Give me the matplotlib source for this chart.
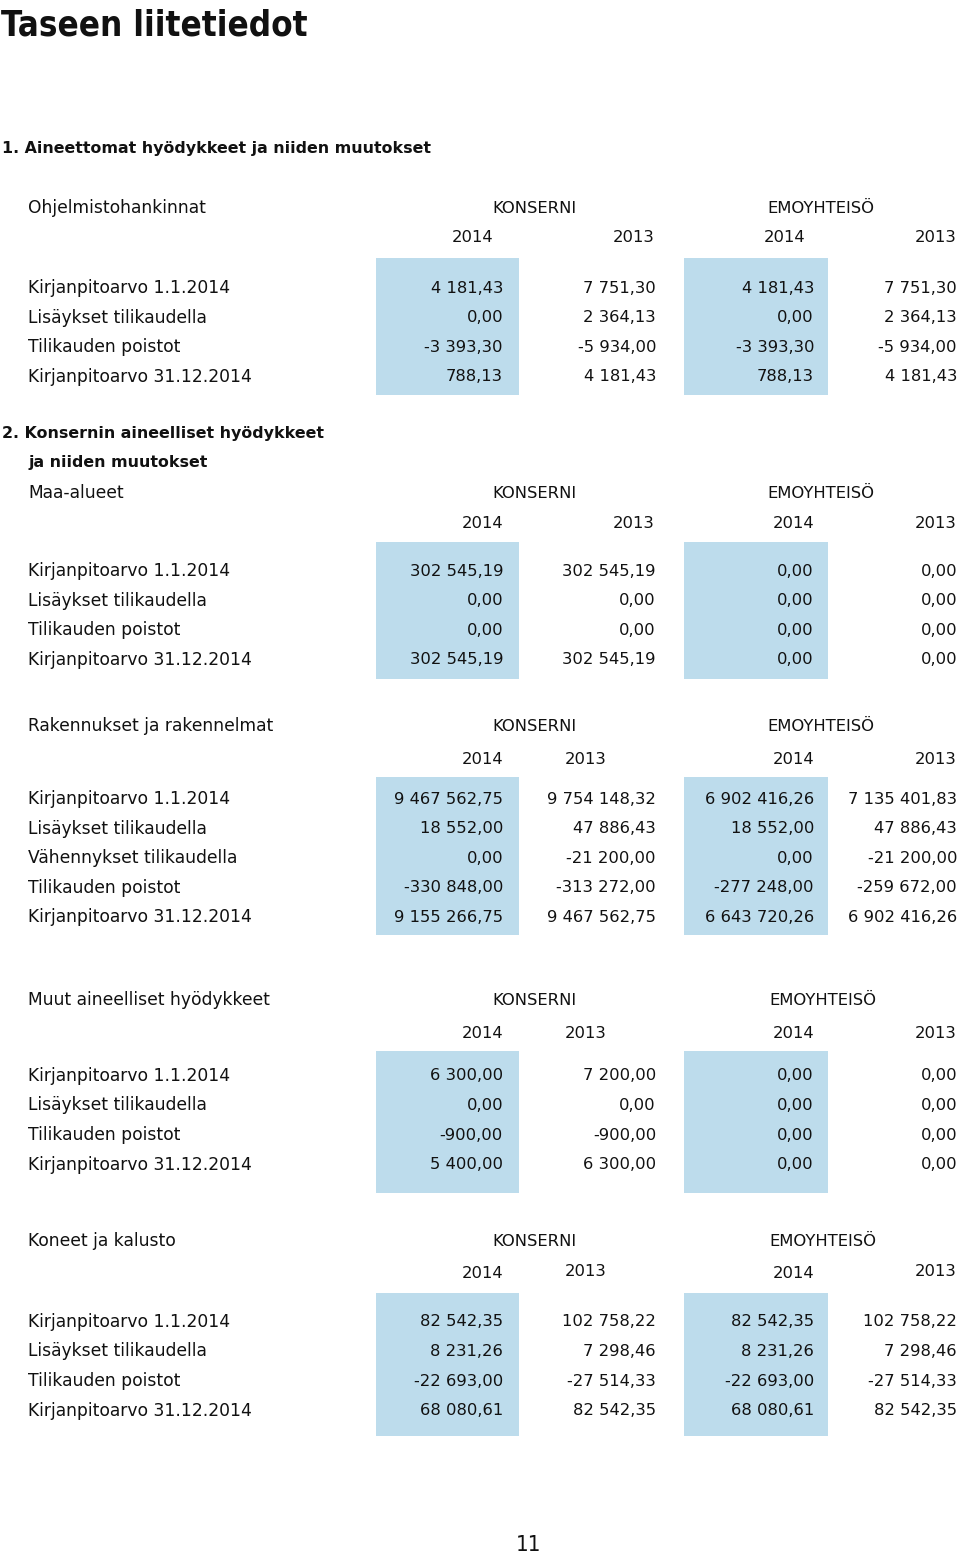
import matplotlib.pyplot as plt
from matplotlib.patches import Rectangle

# --- data -------------------------------------------------------------
page_title = "Taseen liitetiedot"
page_number = "11"
section1_title = "1. Aineettomat hyödykkeet ja niiden muutokset"
section2_title = ["2. Konsernin aineelliset hyödykkeet", "ja niiden muutokset"]
group_labels = ["KONSERNI", "EMOYHTEISÖ"]
years = ["2014", "2013", "2014", "2013"]

block_names = ["Ohjelmistohankinnat", "Maa-alueet", "Rakennukset ja rakennelmat",
               "Muut aineelliset hyödykkeet", "Koneet ja kalusto"]

rows_basic = ["Kirjanpitoarvo 1.1.2014", "Lisäykset tilikaudella",
              "Tilikauden poistot", "Kirjanpitoarvo 31.12.2014"]
rows_rak = ["Kirjanpitoarvo 1.1.2014", "Lisäykset tilikaudella",
            "Vähennykset tilikaudella", "Tilikauden poistot",
            "Kirjanpitoarvo 31.12.2014"]

# columns: konserni 2014, konserni 2013, emo 2014, emo 2013
ohjelmisto = [[4181.43, 7751.30, 4181.43, 7751.30],
              [0.00, 2364.13, 0.00, 2364.13],
              [-3393.30, -5934.00, -3393.30, -5934.00],
              [788.13, 4181.43, 788.13, 4181.43]]
maa_alueet = [[302545.19, 302545.19, 0.00, 0.00],
              [0.00, 0.00, 0.00, 0.00],
              [0.00, 0.00, 0.00, 0.00],
              [302545.19, 302545.19, 0.00, 0.00]]
rakennukset = [[9467562.75, 9754148.32, 6902416.26, 7135401.83],
               [18552.00, 47886.43, 18552.00, 47886.43],
               [0.00, -21200.00, 0.00, -21200.00],
               [-330848.00, -313272.00, -277248.00, -259672.00],
               [9155266.75, 9467562.75, 6643720.26, 6902416.26]]
muut = [[6300.00, 7200.00, 0.00, 0.00],
        [0.00, 0.00, 0.00, 0.00],
        [-900.00, -900.00, 0.00, 0.00],
        [5400.00, 6300.00, 0.00, 0.00]]
koneet = [[82542.35, 102758.22, 82542.35, 102758.22],
          [8231.26, 7298.46, 8231.26, 7298.46],
          [-22693.00, -27514.33, -22693.00, -27514.33],
          [68080.61, 82542.35, 68080.61, 82542.35]]

block_rows = [rows_basic, rows_basic, rows_rak, rows_basic, rows_basic]
block_values = [ohjelmisto, maa_alueet, rakennukset, muut, koneet]


def fi(v):
    # finnish number format: space thousands, comma decimals
    return f"{v:,.2f}".replace(",", " ").replace(".", ",")


# --- layout (pixels) --------------------------------------------------
W, H = 960, 1558
header_y = [208, 493, 726, 1000, 1241]
year_y = [237, 524, 759, 1034, [1273, 1271, 1273, 1271]]
box_top = [258, 542, 777, 1051, 1293]
box_bot = [395, 679, 935, 1193, 1436]
first_row = [288, 571, 799, 1076, 1322]
row_step = 29.5
value_x = [503, 656, 814, 957]
year_x = [[493, 655, 805, 957], [503, 655, 814, 957], [503, 606, 814, 957],
          [503, 606, 814, 957], [503, 606, 814, 957]]
konserni_x = 534
emo_x = [821, 821, 821, 823, 823]
box1 = (376, 519)
box2 = (684, 828)
blue = "#bddcec"
ink = "#111111"

body_font = "DejaVu Sans"
narrow = ["Liberation Sans Narrow", "DejaVu Sans"]
fs_label = 12.3
fs_num = 11.8
fs_head = 11.4

fig = plt.figure(figsize=(W / 100, H / 100), dpi=100)
ax = fig.add_axes([0, 0, 1, 1])
ax.set_xlim(0, W)
ax.set_ylim(H, 0)
ax.axis("off")

ax.text(1, 25, page_title, fontsize=25, fontweight="bold", family=narrow,
        fontstretch="condensed", va="center", ha="left", color=ink)
ax.text(2, 148, section1_title, fontsize=fs_head, fontweight="bold",
        family=body_font, va="center", color=ink)
ax.text(2, 433, section2_title[0], fontsize=fs_head, fontweight="bold",
        family=body_font, va="center", color=ink)
ax.text(28, 462, section2_title[1], fontsize=fs_head, fontweight="bold",
        family=body_font, va="center", color=ink)

for b in range(len(block_names)):
    ax.add_patch(Rectangle((box1[0], box_top[b]), box1[1] - box1[0],
                           box_bot[b] - box_top[b], color=blue, lw=0))
    ax.add_patch(Rectangle((box2[0], box_top[b]), box2[1] - box2[0],
                           box_bot[b] - box_top[b], color=blue, lw=0))
    ax.text(28, header_y[b], block_names[b], fontsize=fs_label, family=body_font,
            va="center", color=ink)
    ax.text(konserni_x, header_y[b], group_labels[0], fontsize=fs_num,
            family=body_font, va="center", ha="center", color=ink)
    ax.text(emo_x[b], header_y[b], group_labels[1], fontsize=fs_num,
            family=body_font, va="center", ha="center", color=ink)
    for j, yr in enumerate(years):
        yy = year_y[b][j] if isinstance(year_y[b], list) else year_y[b]
        ax.text(year_x[b][j], yy, yr, fontsize=fs_num, family=body_font,
                va="center", ha="right", color=ink)
    for i, label in enumerate(block_rows[b]):
        y = first_row[b] + i * row_step
        ax.text(28, y, label, fontsize=fs_label, family=body_font,
                va="center", color=ink)
        for j, v in enumerate(block_values[b][i]):
            ax.text(value_x[j], y, fi(v), fontsize=fs_num, family=body_font,
                    va="center", ha="right", color=ink)

ax.text(529, 1545, page_number, fontsize=16, family=narrow,
        fontstretch="condensed", va="center", ha="center", color=ink)

fig.savefig("out.png", dpi=100)
